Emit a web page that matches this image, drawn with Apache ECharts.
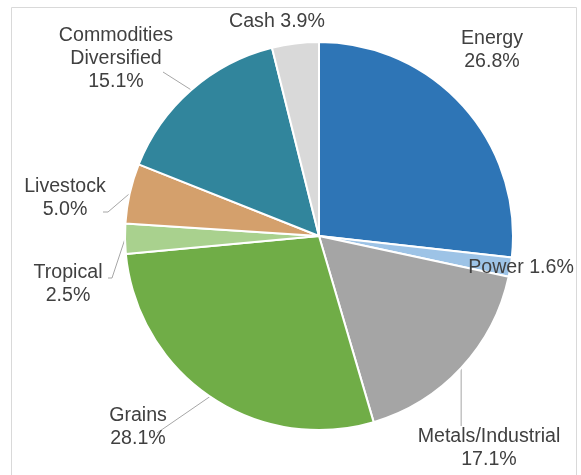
<!DOCTYPE html>
<html>
<head>
<meta charset="utf-8">
<script src="https://cdn.jsdelivr.net/npm/echarts@6/dist/echarts.min.js"></script>
<style>html,body{margin:0;padding:0;background:#fff}#c{width:581px;height:475px}</style>
</head>
<body>
<div id="c"></div>
<script>
const categories = ['Energy', 'Power', 'Metals/Industrial', 'Grains', 'Tropical', 'Livestock', 'Commodities\nDiversified', 'Cash'];
const values = [26.8, 1.6, 17.1, 28.1, 2.5, 5.0, 15.1, 3.9];
const colors = ['#2E75B6', '#9DC3E6', '#A5A5A5', '#70AD47', '#A9D18E', '#D4A06C', '#31859C', '#D9D9D9'];
const singleLine = [false, true, false, false, false, false, false, true];
const showLine = [false, false, true, true, true, true, true, false];
const labelPos = [[492, 50], [521, 268], [489, 448], [138, 427], [68, 284], [65, 198], [116, 59], [277, 22]];
// leader-line end offsets relative to the label centre (style only)
const lineEnds = [null, null, [[null, -22]], [[19, 6]], [[44, -6], [40, -6]], [[43, 14], [38, 14]], [[47, 13]], null];

const chart = echarts.init(document.getElementById('c'));
chart.setOption({
  animation: false,
  graphic: [{
    type: 'rect', shape: { x: 11.5, y: 7.5, width: 565, height: 480 },
    style: { fill: 'none', stroke: '#d9d9d9', lineWidth: 1 }, silent: true
  }],
  series: [{
    type: 'pie',
    center: [319, 236],
    radius: 194,
    startAngle: 90,
    clockwise: true,
    avoidLabelOverlap: false,
    itemStyle: { borderColor: '#fff', borderWidth: 2 },
    label: {
      show: true,
      position: 'outside',
      fontFamily: 'Liberation Sans, Arial, sans-serif',
      fontSize: 19.6,
      lineHeight: 23,
      color: '#404040',
      align: 'center',
      formatter: p => p.name + (singleLine[p.dataIndex] ? ' ' : '\n') + values[p.dataIndex].toFixed(1) + '%'
    },
    labelLine: { show: true, length: 10, length2: 10, lineStyle: { color: '#A6A6A6', width: 1 } },
    labelLayout: p => {
      const i = p.dataIndex;
      const cx = labelPos[i][0], cy = labelPos[i][1];
      const out = { x: cx, y: cy, align: 'center', verticalAlign: 'middle' };
      if (lineEnds[i] && p.labelLinePoints) {
        const s = p.labelLinePoints[0];
        out.labelLinePoints = [[s[0], s[1]]].concat(
          lineEnds[i].map(o => [o[0] === null ? s[0] : cx + o[0], cy + o[1]])
        );
      }
      return out;
    },
    data: categories.map((c, i) => ({
      name: c,
      value: values[i],
      itemStyle: { color: colors[i] },
      labelLine: { show: showLine[i] }
    }))
  }]
});
</script>
</body>
</html>
